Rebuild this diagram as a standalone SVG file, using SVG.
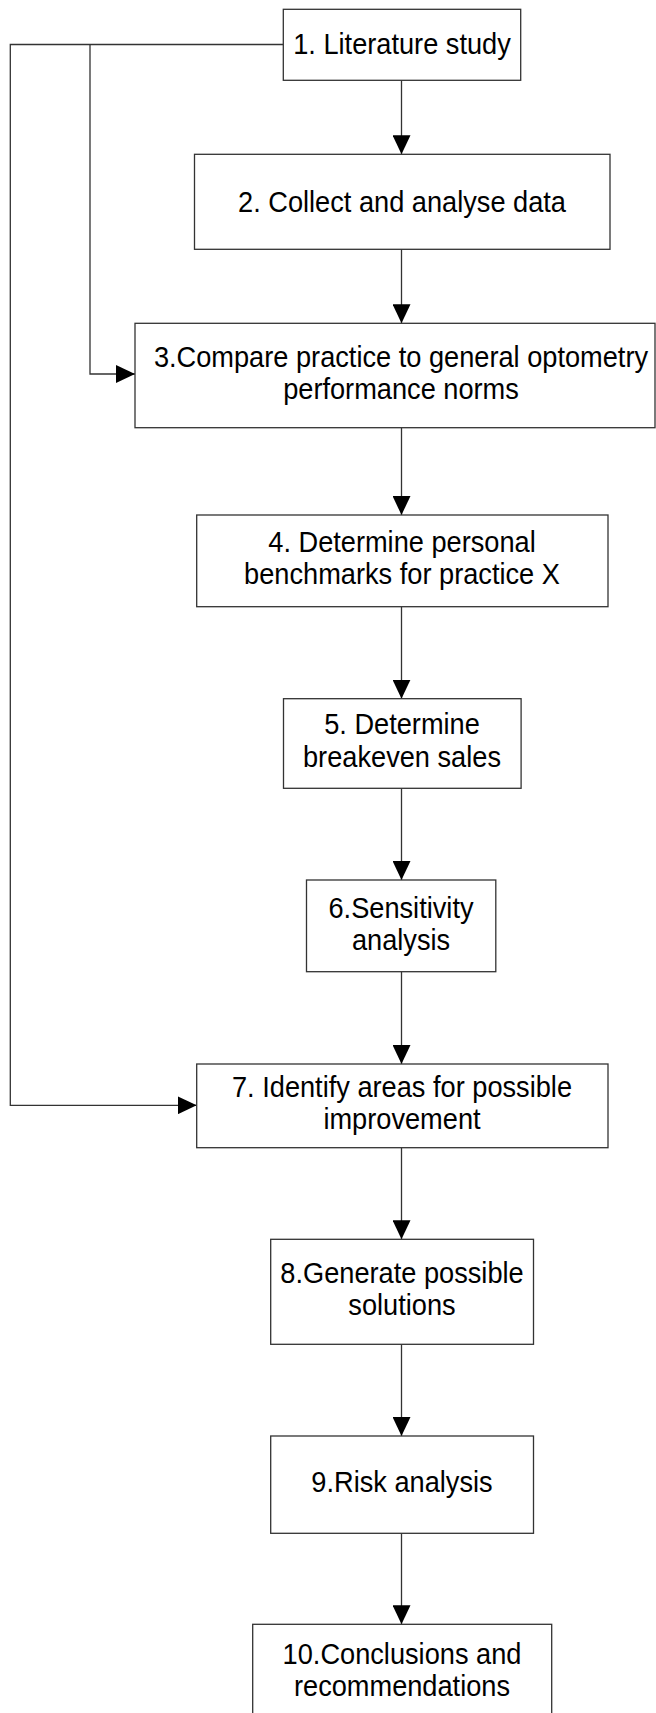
<svg xmlns="http://www.w3.org/2000/svg" width="656" height="1713" viewBox="0 0 656 1713">
<style>
.box{fill:#fff;stroke:#333;stroke-width:1.3}
.t{font-family:"Liberation Sans",Arial,sans-serif;font-size:27.2px;fill:#000;text-anchor:middle}
.c{fill:none;stroke:#333;stroke-width:1.3}
</style>
<defs>
<marker id="ah" markerUnits="userSpaceOnUse" markerWidth="20" markerHeight="18" refX="19" refY="9" orient="auto">
<path d="M0,0 L19,9 L0,18 Z" fill="#000"/>
</marker>
</defs>
<rect width="656" height="1713" fill="#fff"/>
<g id="connectors">
<line class="c" x1="401.5" y1="80.3" x2="401.5" y2="154.3" marker-end="url(#ah)"/>
<line class="c" x1="401.5" y1="249.3" x2="401.5" y2="323.3" marker-end="url(#ah)"/>
<line class="c" x1="401.5" y1="427.7" x2="401.5" y2="515" marker-end="url(#ah)"/>
<line class="c" x1="401.5" y1="606.7" x2="401.5" y2="698.7" marker-end="url(#ah)"/>
<line class="c" x1="401.5" y1="788.3" x2="401.5" y2="880" marker-end="url(#ah)"/>
<line class="c" x1="401.5" y1="971.7" x2="401.5" y2="1064" marker-end="url(#ah)"/>
<line class="c" x1="401.5" y1="1147.7" x2="401.5" y2="1239.3" marker-end="url(#ah)"/>
<line class="c" x1="401.5" y1="1344.3" x2="401.5" y2="1436" marker-end="url(#ah)"/>
<line class="c" x1="401.5" y1="1533.3" x2="401.5" y2="1624.3" marker-end="url(#ah)"/>
<polyline class="c" points="283.3,44.5 10.3,44.5 10.3,1105.3 196.7,1105.3" marker-end="url(#ah)"/>
<polyline class="c" points="90,44.5 90,374 135,374" marker-end="url(#ah)"/>
</g>
<g id="n1"><rect class="box" x="283.3" y="9.3" width="237.4" height="71"/><text class="t" transform="translate(402,54) scale(1,1.1)">1. Literature study</text></g>
<g id="n2"><rect class="box" x="194.5" y="154.3" width="415.5" height="95"/><text class="t" transform="translate(402,211.5) scale(1,1.1)">2. Collect and analyse data</text></g>
<g id="n3"><rect class="box" x="135" y="323.3" width="520" height="104.4"/><text class="t" transform="translate(401,366.7) scale(1,1.1)">3.Compare practice to general optometry</text><text class="t" transform="translate(401,399) scale(1,1.1)">performance norms</text></g>
<g id="n4"><rect class="box" x="196.7" y="515" width="411.3" height="91.7"/><text class="t" transform="translate(402,551.7) scale(1,1.1)">4. Determine personal</text><text class="t" transform="translate(402,584) scale(1,1.1)">benchmarks for practice X</text></g>
<g id="n5"><rect class="box" x="283.5" y="698.7" width="237.6" height="89.6"/><text class="t" transform="translate(402,734.3) scale(1,1.1)">5. Determine</text><text class="t" transform="translate(402,766.7) scale(1,1.1)">breakeven sales</text></g>
<g id="n6"><rect class="box" x="306.5" y="880" width="189.3" height="91.7"/><text class="t" transform="translate(401,918.3) scale(1,1.1)">6.Sensitivity</text><text class="t" transform="translate(401,950) scale(1,1.1)">analysis</text></g>
<g id="n7"><rect class="box" x="196.7" y="1064" width="411.3" height="83.7"/><text class="t" transform="translate(402,1096.7) scale(1,1.1)">7. Identify areas for possible</text><text class="t" transform="translate(402,1129.3) scale(1,1.1)">improvement</text></g>
<g id="n8"><rect class="box" x="270.7" y="1239.3" width="262.8" height="105"/><text class="t" transform="translate(402,1282.7) scale(1,1.1)">8.Generate possible</text><text class="t" transform="translate(402,1315) scale(1,1.1)">solutions</text></g>
<g id="n9"><rect class="box" x="270.7" y="1436" width="262.8" height="97.3"/><text class="t" transform="translate(402,1491.7) scale(1,1.1)">9.Risk analysis</text></g>
<g id="n10"><rect class="box" x="252.7" y="1624.3" width="299" height="100"/><text class="t" transform="translate(402,1664) scale(1,1.1)">10.Conclusions and</text><text class="t" transform="translate(402,1696) scale(1,1.1)">recommendations</text></g>
</svg>
